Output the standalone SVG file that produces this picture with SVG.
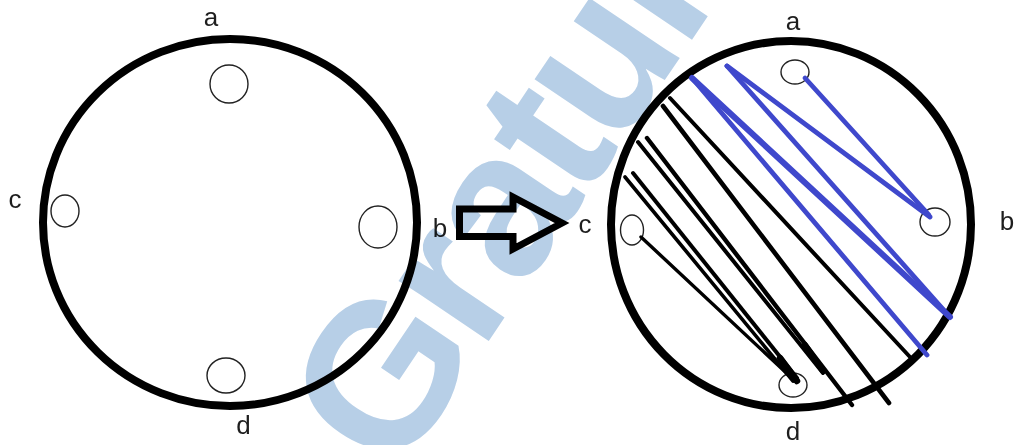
<svg xmlns="http://www.w3.org/2000/svg" width="1015" height="445" viewBox="0 0 1015 445">
<style>
.ring{fill:none;stroke:#000;stroke-width:8}
.hole{fill:#fff;stroke:#222;stroke-width:1.4}
.lbl{font-family:"Liberation Sans",Arial,sans-serif;font-size:26px;fill:#1e1e1e;text-anchor:middle}
.blk{fill:none;stroke:#000;stroke-width:4;stroke-linecap:round}
.blu{fill:none;stroke:#3f48cc;stroke-width:4.8;stroke-linecap:round}
.wm{font-family:"Liberation Sans",Arial,sans-serif;font-weight:bold;font-size:205px;letter-spacing:-6px;fill:#b7cfe7;mix-blend-mode:multiply}
</style>
<rect width="1015" height="445" fill="#fff"/>
<g id="before">
  <ellipse class="ring" cx="230" cy="222.5" rx="187" ry="183.5"/>
  <ellipse class="hole" cx="229" cy="84" rx="19" ry="19"/>
  <ellipse class="hole" cx="65" cy="211" rx="14" ry="16"/>
  <ellipse class="hole" cx="378" cy="227" rx="19" ry="21"/>
  <ellipse class="hole" cx="226" cy="375.5" rx="19" ry="17.5"/>
  <text class="lbl" x="211" y="26">a</text>
  <text class="lbl" x="15" y="208">c</text>
  <text class="lbl" x="440" y="237">b</text>
  <text class="lbl" x="243.5" y="434">d</text>
</g>
<g id="arrow">
  <polygon points="459.5,209 513,209 513,197 562,223 513,249 513,236.5 459.5,236.5" fill="#fff" stroke="#000" stroke-width="7" stroke-linejoin="miter"/>
</g>
<g id="after">
  <ellipse class="ring" cx="791" cy="224.5" rx="180" ry="183.5"/>
  <ellipse class="hole" cx="795" cy="72" rx="14" ry="12"/>
  <ellipse class="hole" cx="935" cy="222" rx="15" ry="14"/>
  <ellipse class="hole" cx="632" cy="230" rx="11.5" ry="15"/>
  <ellipse class="hole" cx="793" cy="385" rx="14" ry="12"/>
  <text class="lbl" x="793" y="30">a</text>
  <text class="lbl" x="585" y="233">c</text>
  <text class="lbl" x="1007" y="230">b</text>
  <text class="lbl" x="793" y="440">d</text>
</g>
<g id="connectors">
  <path class="blk" d="M641,237 L795,381" style="stroke-width:3.4"/>
  <path class="blk" d="M625,177 L793,381" style="stroke-width:3.6"/>
  <path class="blk" d="M633,173 L797,378"/>
  <path class="blk" d="M638,142 L823,373"/>
  <path class="blk" d="M647,138 L852,405" style="stroke-width:4.4"/>
  <path class="blk" d="M663,106 L889,403" style="stroke-width:4.6"/>
  <path class="blk" d="M670,98 L910,357"/>
  <path class="blk" d="M780,358 L797,381" style="stroke-width:6.5"/>
  <path class="blk" d="M805,345 L823,371" style="stroke-width:6"/>
  <path class="blu" d="M692,78 L950,317" style="stroke-width:6"/>
  <path class="blu" d="M692,78 L927,355"/>
  <path class="blu" d="M727,66 L930,217"/>
  <path class="blu" d="M727,66 L950,317"/>
  <path class="blu" d="M805,78 L929,215"/>
</g>
<text class="wm" transform="translate(395,480) rotate(-56)">Gratuit</text>
</svg>
